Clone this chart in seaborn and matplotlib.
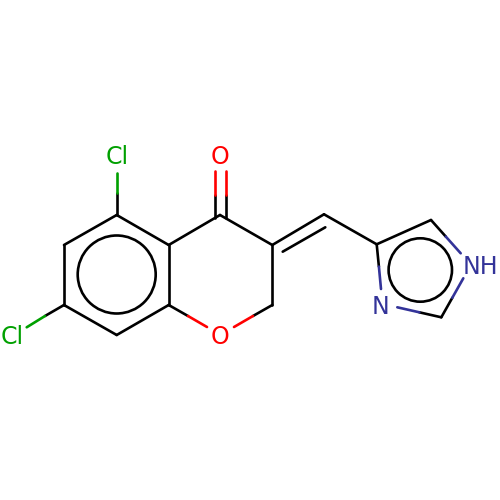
import matplotlib
matplotlib.use('Agg')
import matplotlib.pyplot as plt
from matplotlib.patches import Circle
import pandas as pd
import seaborn as sns

# bond pieces in picture pixels, element decides the colour
seg_x1 = [116.7, 64, 64, 116.7, 168.7, 168.7, 220, 272.3, 272.3, 282.7, 324, 376.7, 431,
          116.7, 116.7, 64, 45, 215, 215, 225.7, 225.7, 168.7, 188, 272.3, 253,
          431, 445.8, 441.3, 452.3, 441.3, 419.3, 376.7, 378.9]
seg_y1 = [215, 245, 305, 335, 305, 245, 215, 245, 245, 251.7, 214.3, 244.3, 220,
          215, 193, 305, 316, 218, 195, 218, 195, 305, 316, 305, 316,
          220, 236.6, 317.3, 297.8, 317.3, 312.3, 244.3, 266.6]
seg_x2 = [64, 64, 116.7, 168.7, 168.7, 116.7, 168.7, 220, 272.3, 325.3, 272.3, 324, 376.7,
          116.7, 116.7, 45, 26.7, 215, 215, 225.7, 225.7, 188, 207, 253, 234,
          445.8, 460.7, 452.3, 463.3, 419.3, 397.3, 378.9, 381]
seg_y2 = [245, 305, 335, 305, 245, 215, 245, 215, 305, 227.3, 245, 214.3, 244.3,
          193, 172.7, 316, 327.3, 195, 170.7, 195, 170.7, 316, 327, 316, 327,
          236.6, 253.3, 297.8, 278.3, 312.3, 307.3, 266.6, 289]
seg_elem = ['C'] * 13 + ['C', 'Cl', 'C', 'Cl', 'C', 'O', 'C', 'O', 'C', 'O', 'C', 'O',
                         'C', 'N', 'C', 'N', 'C', 'N', 'C', 'N']

# aromatic rings: centre x, centre y, radius
ring_x = [116.7, 420.3]
ring_y = [274.5, 270]
ring_r = [39, 31.7]

# atom labels
label_text = ['Cl', 'Cl', 'O', 'O', 'N', 'NH']
label_x = [116.7, 12, 220, 220, 381, 480]
label_y = [157, 337, 157, 337, 307, 267]
label_elem = ['Cl', 'Cl', 'O', 'O', 'N', 'N']

palette = {'C': '#000000', 'Cl': '#00a000', 'O': '#ff0000', 'N': '#333399'}
line_w = 1.9

rows = []
for i in range(len(seg_x1)):
    rows.append({'bond': i, 'x': seg_x1[i], 'y': seg_y1[i], 'elem': seg_elem[i]})
    rows.append({'bond': i, 'x': seg_x2[i], 'y': seg_y2[i], 'elem': seg_elem[i]})
bonds = pd.DataFrame(rows)

sns.set_theme(style='white')
plt.rcParams['font.family'] = ['DejaVu Sans']

fig, ax = plt.subplots(figsize=(5, 5), dpi=100)
ax.set_position([0, 0, 1, 1])

sns.lineplot(data=bonds, x='x', y='y', hue='elem', units='bond', estimator=None,
             sort=False, palette=palette, linewidth=line_w, legend=False, ax=ax,
             solid_capstyle='round')

for cx, cy, r in zip(ring_x, ring_y, ring_r):
    ax.add_patch(Circle((cx, cy), r, fill=False, edgecolor='black', linewidth=line_w))

for text, x, y, elem in zip(label_text, label_x, label_y, label_elem):
    ax.text(x, y, text, color=palette[elem], fontsize=17, ha='center', va='center')

ax.set_xlim(0, 500)
ax.set_ylim(500, 0)
ax.axis('off')

fig.savefig('out.png', dpi=100, facecolor='white')
plt.close(fig)
